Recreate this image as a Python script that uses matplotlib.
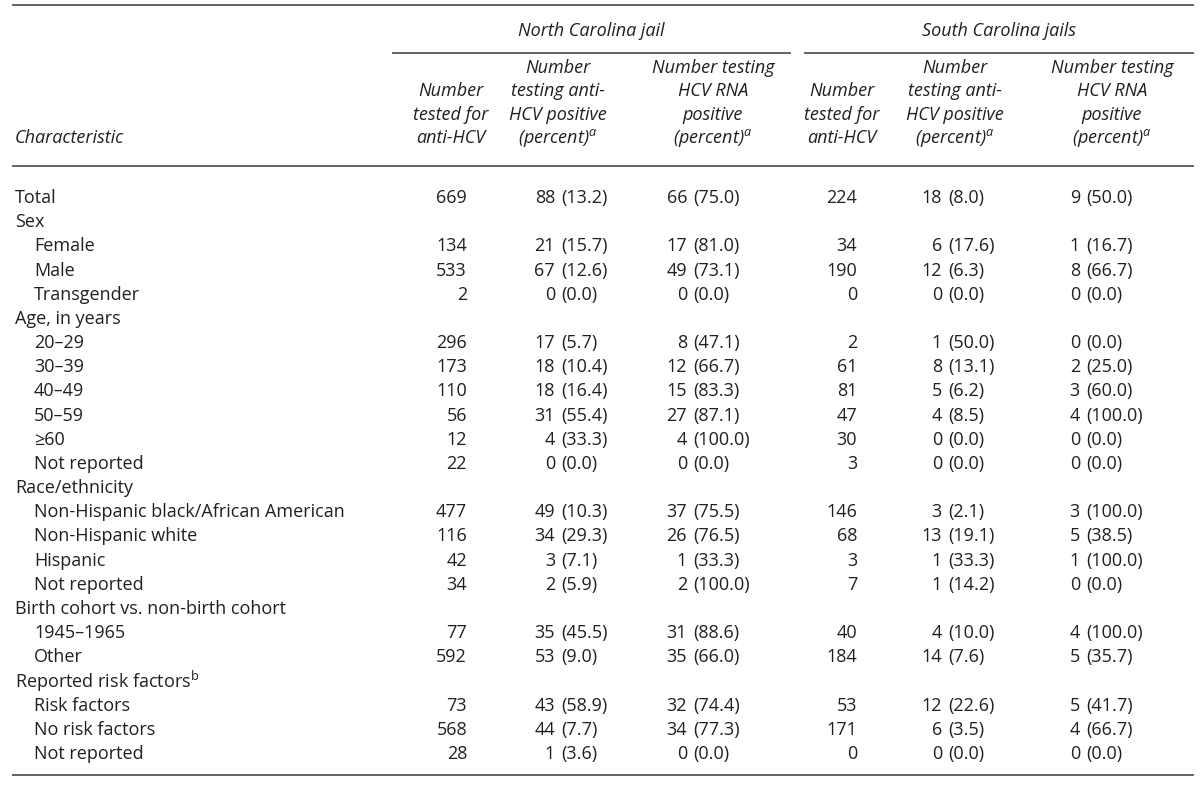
#!/usr/bin/env python3
"""
Recreate the HCV testing table (North / South Carolina jails) as an image
"""

import matplotlib.pyplot as plt

# ---- data -------------------------------------------------------------
labels = ['Total', 'Sex', 'Female', 'Male', 'Transgender',
          'Age, in years', '20\u201329', '30\u201339', '40\u201349', '50\u201359',
          '\u226560', 'Not reported',
          'Race/ethnicity', 'Non-Hispanic black/African American',
          'Non-Hispanic white', 'Hispanic', 'Not reported',
          'Birth cohort vs. non-birth cohort', '1945\u20131965', 'Other',
          'Reported risk factors$^{\\mathregular{b}}$', 'Risk factors',
          'No risk factors', 'Not reported']
indented = [0, 0, 1, 1, 1, 0, 1, 1, 1, 1, 1, 1, 0, 1, 1, 1, 1, 0, 1, 1, 0, 1, 1, 1]

# None = group heading row (no values)
nc_tested = [669, None, 134, 533, 2, None, 296, 173, 110, 56, 12, 22,
             None, 477, 116, 42, 34, None, 77, 592, None, 73, 568, 28]
nc_anti_n = [88, None, 21, 67, 0, None, 17, 18, 18, 31, 4, 0,
             None, 49, 34, 3, 2, None, 35, 53, None, 43, 44, 1]
nc_anti_pct = [13.2, None, 15.7, 12.6, 0.0, None, 5.7, 10.4, 16.4, 55.4, 33.3, 0.0,
               None, 10.3, 29.3, 7.1, 5.9, None, 45.5, 9.0, None, 58.9, 7.7, 3.6]
nc_rna_n = [66, None, 17, 49, 0, None, 8, 12, 15, 27, 4, 0,
            None, 37, 26, 1, 2, None, 31, 35, None, 32, 34, 0]
nc_rna_pct = [75.0, None, 81.0, 73.1, 0.0, None, 47.1, 66.7, 83.3, 87.1, 100.0, 0.0,
              None, 75.5, 76.5, 33.3, 100.0, None, 88.6, 66.0, None, 74.4, 77.3, 0.0]
sc_tested = [224, None, 34, 190, 0, None, 2, 61, 81, 47, 30, 3,
             None, 146, 68, 3, 7, None, 40, 184, None, 53, 171, 0]
sc_anti_n = [18, None, 6, 12, 0, None, 1, 8, 5, 4, 0, 0,
             None, 3, 13, 1, 1, None, 4, 14, None, 12, 6, 0]
sc_anti_pct = [8.0, None, 17.6, 6.3, 0.0, None, 50.0, 13.1, 6.2, 8.5, 0.0, 0.0,
               None, 2.1, 19.1, 33.3, 14.2, None, 10.0, 7.6, None, 22.6, 3.5, 0.0]
sc_rna_n = [9, None, 1, 8, 0, None, 0, 2, 3, 4, 0, 0,
            None, 3, 5, 1, 0, None, 4, 5, None, 5, 4, 0]
sc_rna_pct = [50.0, None, 16.7, 66.7, 0.0, None, 0.0, 25.0, 60.0, 100.0, 0.0, 0.0,
              None, 100.0, 38.5, 100.0, 0.0, None, 100.0, 35.7, None, 41.7, 66.7, 0.0]

group_titles = ['North Carolina jail', 'South Carolina jails']
col_headers = [
    ['Number', 'tested for', 'anti-HCV'],
    ['Number', 'testing anti-', 'HCV positive', '(percent)$^{\\mathregular{a}}$'],
    ['Number testing', 'HCV RNA', 'positive', '(percent)$^{\\mathregular{a}}$'],
    ['Number', 'tested for', 'anti-HCV'],
    ['Number', 'testing anti-', 'HCV positive', '(percent)$^{\\mathregular{a}}$'],
    ['Number testing', 'HCV RNA', 'positive', '(percent)$^{\\mathregular{a}}$'],
]

# ---- layout (pixels, y downwards) --------------------------------------
W, H = 1200, 786
FONT = 'Open Sans'
FS = 13
TXT = '#231f20'
RULE = '#555555'

fig = plt.figure(figsize=(W / 100, H / 100), dpi=100)
ax = fig.add_axes([0, 0, 1, 1])
ax.set_xlim(0, W)
ax.set_ylim(H, 0)
ax.set_axis_off()

def text(x, y, s, ha='left', style='normal'):
    ax.text(x, y, s, ha=ha, va='center', fontsize=FS, family=FONT,
            style=style, color=TXT)

# rules
ax.plot([13, 1193], [5, 5], color=RULE, lw=1.3)
ax.plot([393, 790], [53, 53], color=RULE, lw=1.3)
ax.plot([805, 1193], [53, 53], color=RULE, lw=1.3)
ax.plot([13, 1193], [166, 166], color=RULE, lw=1.3)
ax.plot([13, 1193], [775, 775], color=RULE, lw=1.3)

# group titles
text(591, 31, group_titles[0], ha='center', style='italic')
text(999, 31, group_titles[1], ha='center', style='italic')

# column headers (bottom aligned)
header_cx = [451, 558, 713, 842, 955, 1112]
line_h = 23.3
bottom_y = 138
text(15, bottom_y, 'Characteristic', style='italic')
for cx, lines in zip(header_cx, col_headers):
    for k, ln in enumerate(reversed(lines)):
        text(cx, bottom_y - k * line_h, ln, ha='center', style='italic')

# body rows
row0, step = 198, 24.17
count_right = [467, 555, 687, 857, 942, 1080]
columns = [(nc_tested, None), (nc_anti_n, nc_anti_pct), (nc_rna_n, nc_rna_pct),
           (sc_tested, None), (sc_anti_n, sc_anti_pct), (sc_rna_n, sc_rna_pct)]

for i, lab in enumerate(labels):
    y = row0 + i * step
    text(34 if indented[i] else 15, y, lab)
    for xr, (counts, pcts) in zip(count_right, columns):
        if counts[i] is None:
            continue
        text(xr, y, f'{counts[i]}', ha='right')
        if pcts is not None:
            text(xr + 6, y, f'({pcts[i]:.1f})', ha='left')

fig.savefig('out.png', dpi=100, facecolor='white')
plt.close(fig)
